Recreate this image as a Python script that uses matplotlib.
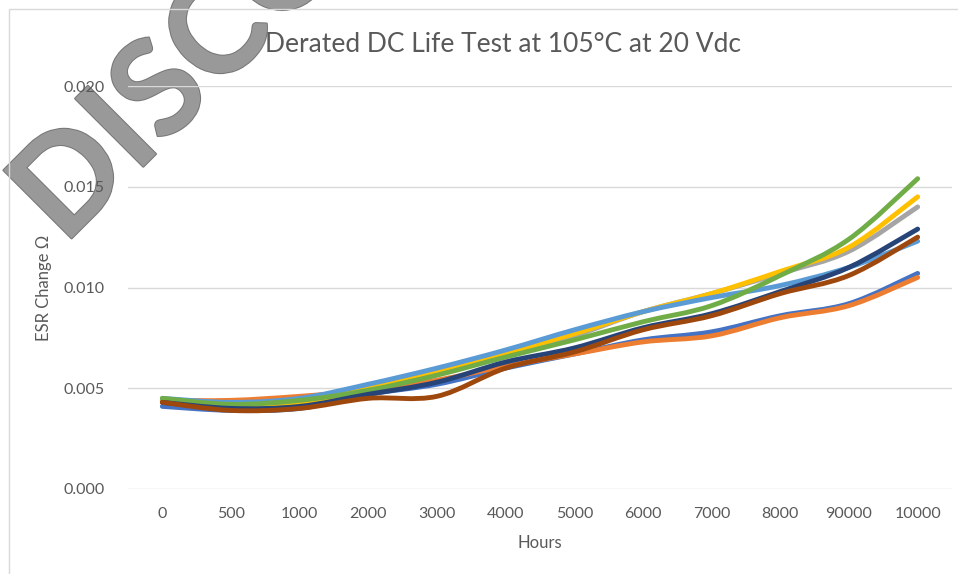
import numpy as np
import matplotlib.pyplot as plt
from matplotlib.path import Path
from matplotlib.patches import PathPatch, Rectangle
import matplotlib.patheffects as pe

plt.rcParams['font.family'] = ['Lato', 'DejaVu Sans']

hours = ['0', '500', '1000', '2000', '3000', '4000', '5000', '6000',
         '7000', '8000', '90000', '10000']

s1 = [0.0041, 0.0039, 0.0040, 0.0047, 0.0052, 0.0060, 0.0067, 0.0074, 0.0078, 0.0086, 0.0092, 0.0107]
s2 = [0.0044, 0.0044, 0.0046, 0.0049, 0.0054, 0.0061, 0.0067, 0.0073, 0.0076, 0.0085, 0.0091, 0.0105]
s3 = [0.0044, 0.0041, 0.0042, 0.0049, 0.0057, 0.0066, 0.0076, 0.0088, 0.0097, 0.0107, 0.0118, 0.0140]
s4 = [0.0044, 0.0041, 0.0042, 0.0050, 0.0058, 0.00675, 0.0077, 0.0088, 0.0097, 0.0108, 0.0120, 0.0145]
s5 = [0.0045, 0.0043, 0.0045, 0.0052, 0.0060, 0.0069, 0.0079, 0.0088, 0.0095, 0.0101, 0.0110, 0.0123]
s6 = [0.0045, 0.0042, 0.0044, 0.0049, 0.00565, 0.00655, 0.0074, 0.0083, 0.0091, 0.0106, 0.0124, 0.0154]
s7 = [0.0043, 0.0040, 0.0041, 0.0047, 0.0053, 0.0063, 0.0070, 0.0080, 0.0087, 0.0098, 0.0110, 0.0129]
s8 = [0.0043, 0.0039, 0.0040, 0.0045, 0.0046, 0.0060, 0.0068, 0.0079, 0.0086, 0.0097, 0.0106, 0.0125]

series = [s1, s2, s3, s4, s5, s6, s7, s8]
colors = ['#4472C4', '#ED7D31', '#A5A5A5', '#FFC000', '#5B9BD5', '#70AD47', '#264478', '#9E480E']


def smooth_path(x, y):
    # bezier segments like excel "smoothed line"
    p = np.column_stack([x, y])
    n = len(p)
    verts = [p[0]]
    codes = [Path.MOVETO]
    for i in range(n - 1):
        p0 = p[max(i - 1, 0)]
        p1 = p[i]
        p2 = p[i + 1]
        p3 = p[min(i + 2, n - 1)]
        c1 = p1 + (p2 - p0) / 6
        c2 = p2 - (p3 - p1) / 6
        verts += [c1, c2, p2]
        codes += [Path.CURVE4] * 3
    return Path(verts, codes)


fig = plt.figure(figsize=(9.58, 5.74), dpi=100)
ax = fig.add_axes([128 / 958, 85 / 574, 824 / 958, 403 / 574])
ax.patch.set_alpha(0)

x = np.arange(len(hours))
for s, c in zip(series, colors):
    patch = PathPatch(smooth_path(x, s), fill=False, edgecolor=c, lw=3.5,
                      capstyle='round', joinstyle='round')
    ax.add_patch(patch)

ax.set_xlim(-0.5, len(hours) - 0.5)
ax.set_ylim(0, 0.02)
ax.set_yticks([0, 0.005, 0.010, 0.015, 0.020])
ax.set_yticklabels(['0.000', '0.005', '0.010', '0.015', '0.020'])
ax.set_xticks(x)
ax.set_xticklabels(hours)
ax.tick_params(length=0, labelsize=11.5, colors='#595959', pad=13)
ax.tick_params(axis='y', pad=17)
ax.grid(axis='y', color='#d9d9d9', lw=1)
ax.set_axisbelow(True)
for sp in ax.spines.values():
    sp.set_visible(False)

ax.set_xlabel('Hours', fontsize=12, color='#595959', labelpad=10)
ax.set_ylabel('ESR Change Ω', fontsize=12, color='#595959', labelpad=8)
fig.text(503 / 958, 1 - 45 / 574, 'Derated DC Life Test at 105°C at 20 Vdc',
         fontsize=19, color='#595959', ha='center', va='center')

# outer chart border
fig.patches.append(Rectangle((9 / 958, -0.1), 1.1, (574 - 9) / 574 + 0.1,
                             transform=fig.transFigure, fill=False,
                             edgecolor='#d9d9d9', lw=1))

# watermark, behind the chart
fig.text(64 / 958, 1 - 246 / 574, 'DISCONTINUED', rotation=45,
         rotation_mode='anchor', ha='left', va='baseline', fontsize=96,
         fontweight='bold', color='#999999', zorder=-1,
         path_effects=[pe.withStroke(linewidth=1.5, foreground='#777777')])

fig.savefig('out.png', dpi=100)
